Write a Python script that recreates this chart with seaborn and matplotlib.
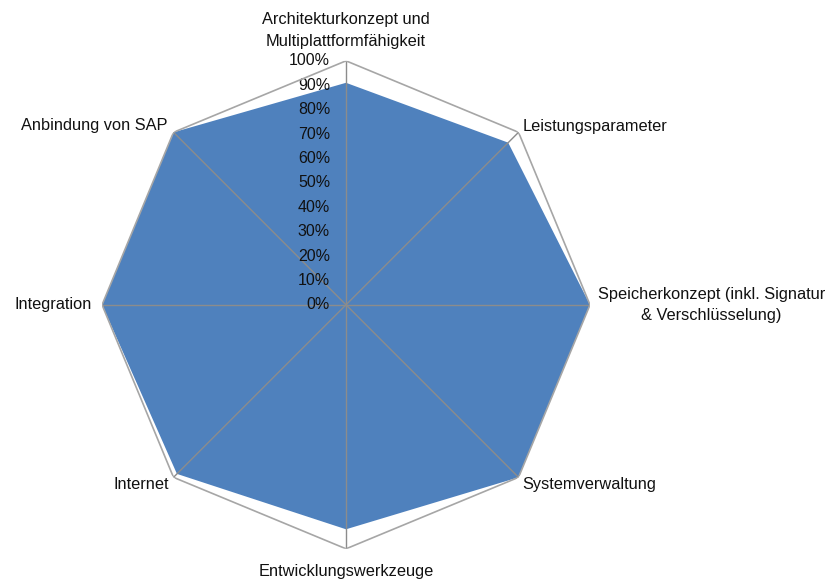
import numpy as np
import pandas as pd
import matplotlib
matplotlib.use("Agg")
import matplotlib.pyplot as plt
import seaborn as sns

# chart data
categories = ["Architekturkonzept und\nMultiplattformfähigkeit", "Leistungsparameter",
              "Speicherkonzept (inkl. Signatur\n& Verschlüsselung)", "Systemverwaltung",
              "Entwicklungswerkzeuge", "Internet", "Integration", "Anbindung von SAP"]
values = [0.91, 0.94, 1.0, 1.0, 0.92, 0.98, 1.0, 1.0]
max_values = [1.0] * len(categories)
r_ticks = [0.0, 0.1, 0.2, 0.3, 0.4, 0.5, 0.6, 0.7, 0.8, 0.9, 1.0]
r_labels = ["0%", "10%", "20%", "30%", "40%", "50%", "60%", "70%", "80%", "90%", "100%"]

# label placement (offset in pixels, alignment)
label_style = [((0, 12), "center", "bottom"), ((4, 6), "left", "center"),
               ((8, 0), "left", "center"), ((4, -7), "left", "center"),
               ((0, -15), "center", "top"), ((-4, -7), "right", "center"),
               ((-10, 0), "right", "center"), ((-6, 7), "right", "center")]

sns.set_theme(style="white")
plt.rcParams['font.family'] = ['Liberation Sans', 'DejaVu Sans']

df = pd.DataFrame({"category": categories, "value": values, "max": max_values})
angles = np.linspace(0, 2 * np.pi, len(df), endpoint=False)
closed = np.append(angles, angles[0])

fig = plt.figure(figsize=(8.37, 5.82), dpi=100)
ax = fig.add_axes([0.1219, 0.057, 0.583, 0.8385], projection="polar")
ax.set_theta_offset(np.pi / 2)
ax.set_theta_direction(-1)
ax.set_ylim(0, 1)

ax.fill(closed, np.append(df["value"], df["value"].iloc[0]), color="#4F81BD", lw=0, zorder=1)
ax.plot(closed, np.append(df["max"], df["max"].iloc[0]), color="#A6A6A6", lw=1.2, zorder=4)

ax.set_xticks(angles)
ax.set_xticklabels([])
ax.set_yticks([])
ax.xaxis.grid(True, color="#8C8C8C", lw=1.0)
ax.set_axisbelow(False)
ax.spines["polar"].set_visible(False)
ax.set_facecolor("none")

for a, cat, (off, ha, va) in zip(angles, df["category"], label_style):
    ax.annotate(cat, xy=(a, 1.0), xytext=off, textcoords="offset pixels",
                ha=ha, va=va, fontsize=11.8, color="#111111", multialignment="center",
                linespacing=1.55)

for r, lab in zip(r_ticks, r_labels):
    ax.annotate(lab, xy=(0, r), xytext=(-16, 0), textcoords="offset pixels",
                ha="right", va="center", fontsize=11.5, color="#111111")

fig.savefig("out.png", dpi=100)
